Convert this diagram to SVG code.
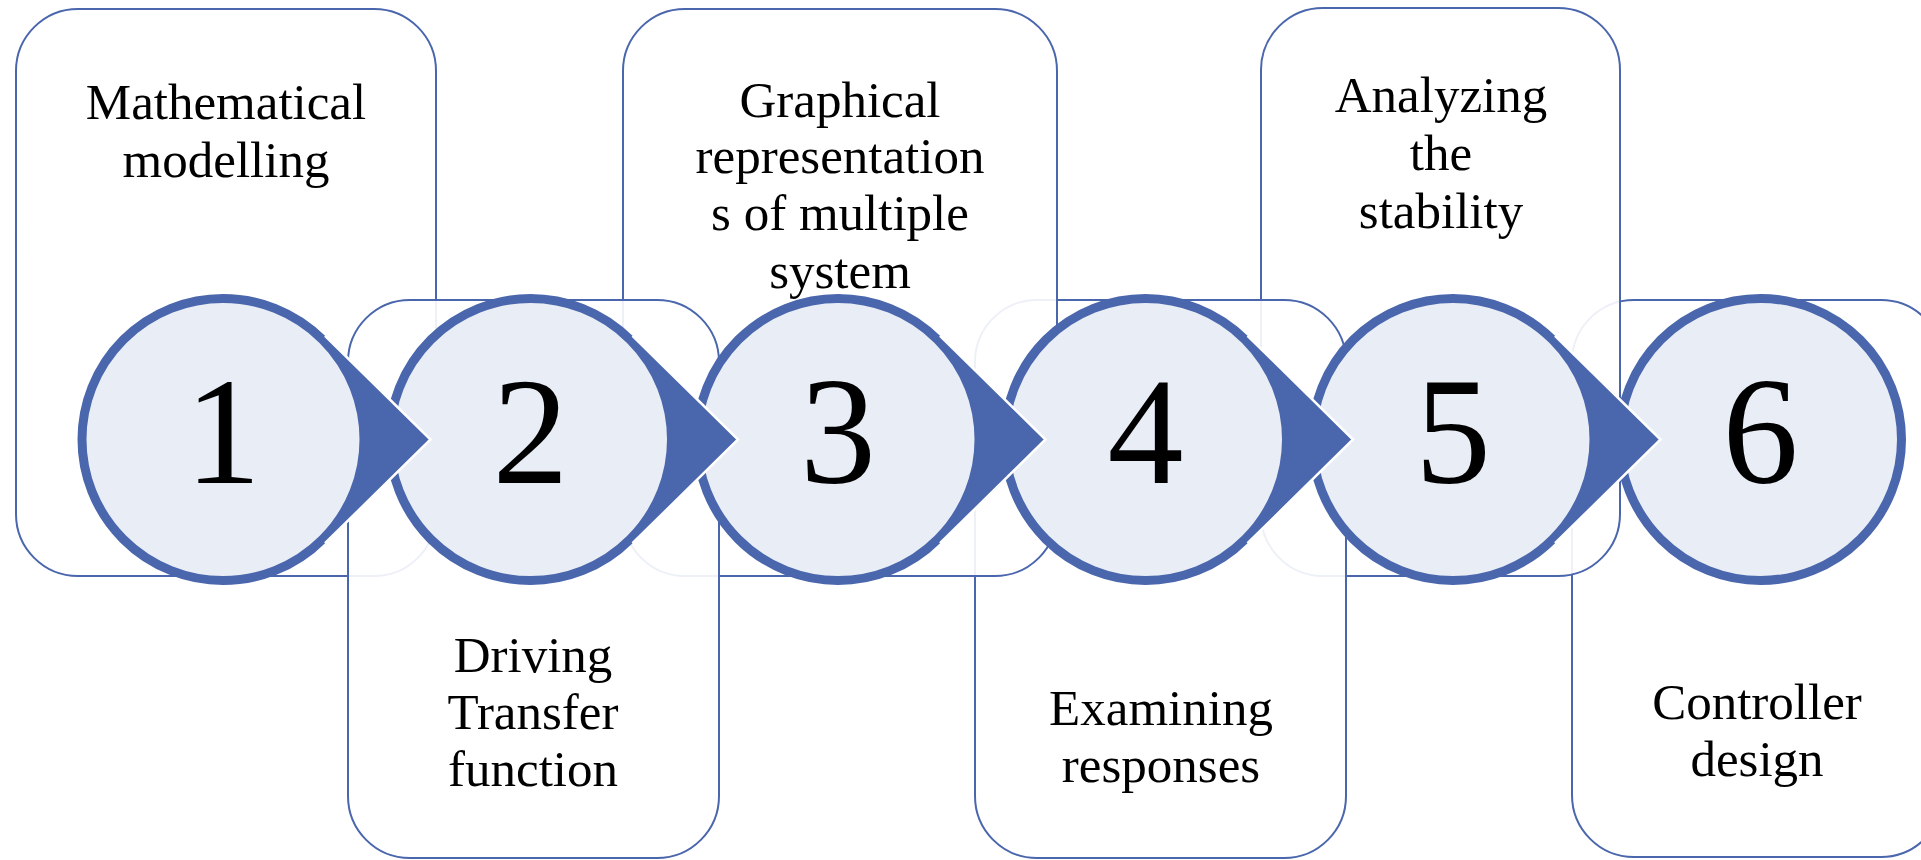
<svg xmlns="http://www.w3.org/2000/svg" width="1921" height="860" viewBox="0 0 1921 860">
  <style>
    .box { fill: #ffffff; fill-opacity: 0.9; stroke: #4A66AC; stroke-width: 2; }
    .lbl { font-family: "Liberation Serif", "Times New Roman", serif; font-size: 51px; fill: #000000; text-anchor: middle; }
    .circ { fill: #E9EDF6; stroke: #4A66AC; stroke-width: 9; }
    .num { font-family: "Liberation Serif", "Times New Roman", serif; font-size: 152px; fill: #000000; text-anchor: middle; }
    .arrow { fill: #4A66AC; stroke: none; }
    .edge { fill: none; stroke: #ffffff; stroke-width: 2.5; stroke-linejoin: miter; }
  </style>
  <rect x="0" y="0" width="1921" height="860" fill="#ffffff"/>

  <g id="boxes">
    <g id="step1-box">
      <rect class="box" x="16" y="9" width="420" height="567" rx="62" ry="62"/>
      <text class="lbl" x="226" y="119">Mathematical</text>
      <text class="lbl" x="226" y="177">modelling</text>
    </g>
    <g id="step6-box">
      <rect class="box" x="1572" y="300" width="371" height="557" rx="62" ry="62"/>
      <text class="lbl" x="1757" y="719">Controller</text>
      <text class="lbl" x="1757" y="776">design</text>
    </g>
    <g id="step5-box">
      <rect class="box" x="1261" y="8" width="359" height="568" rx="62" ry="62"/>
      <text class="lbl" x="1441" y="112">Analyzing</text>
      <text class="lbl" x="1441" y="170">the</text>
      <text class="lbl" x="1441" y="228">stability</text>
    </g>
    <g id="step4-box">
      <rect class="box" x="975" y="300" width="371" height="558" rx="62" ry="62"/>
      <text class="lbl" x="1161" y="725">Examining</text>
      <text class="lbl" x="1161" y="782">responses</text>
    </g>
    <g id="step3-box">
      <rect class="box" x="623" y="9" width="434" height="567" rx="62" ry="62"/>
      <text class="lbl" x="840" y="117">Graphical</text>
      <text class="lbl" x="840" y="173">representation</text>
      <text class="lbl" x="840" y="230">s of multiple</text>
      <text class="lbl" x="840" y="288">system</text>
    </g>
    <g id="step2-box">
      <rect class="box" x="348" y="300" width="371" height="558" rx="62" ry="62"/>
      <text class="lbl" x="533" y="672">Driving</text>
      <text class="lbl" x="533" y="729">Transfer</text>
      <text class="lbl" x="533" y="786">function</text>
    </g>
  </g>

  <g id="circles">
    <g id="step1">
      <circle class="circ" cx="223" cy="439.5" r="141"/>
      <text class="num" x="223" y="483">1</text>
    </g>
    <g id="step2">
      <circle class="circ" cx="530.5" cy="439.5" r="141"/>
      <text class="num" x="530.5" y="483">2</text>
    </g>
    <g id="step3">
      <circle class="circ" cx="838" cy="439.5" r="141"/>
      <text class="num" x="838" y="483">3</text>
    </g>
    <g id="step4">
      <circle class="circ" cx="1145.5" cy="439.5" r="141"/>
      <text class="num" x="1145.5" y="483">4</text>
    </g>
    <g id="step5">
      <circle class="circ" cx="1453" cy="439.5" r="141"/>
      <text class="num" x="1453" y="483">5</text>
    </g>
    <g id="step6">
      <circle class="circ" cx="1760.5" cy="439.5" r="141"/>
      <text class="num" x="1760.5" y="483">6</text>
    </g>
  </g>

  <g id="connectors">
    <g id="c1-2">
      <path class="arrow" d="M430.5,439.5 L325.02,335.76 L321.87,338.98 A141,141 0 0 1 321.87,540.02 L325.02,543.24 Z"/>
      <polyline class="edge" points="325.02,335.76 430.5,439.5 325.02,543.24"/>
    </g>
    <g id="c2-3">
      <path class="arrow" d="M738,439.5 L632.52,335.76 L629.37,338.98 A141,141 0 0 1 629.37,540.02 L632.52,543.24 Z"/>
      <polyline class="edge" points="632.52,335.76 738,439.5 632.52,543.24"/>
    </g>
    <g id="c3-4">
      <path class="arrow" d="M1045.5,439.5 L940.02,335.76 L936.87,338.98 A141,141 0 0 1 936.87,540.02 L940.02,543.24 Z"/>
      <polyline class="edge" points="940.02,335.76 1045.5,439.5 940.02,543.24"/>
    </g>
    <g id="c4-5">
      <path class="arrow" d="M1353,439.5 L1247.52,335.76 L1244.37,338.98 A141,141 0 0 1 1244.37,540.02 L1247.52,543.24 Z"/>
      <polyline class="edge" points="1247.52,335.76 1353,439.5 1247.52,543.24"/>
    </g>
    <g id="c5-6">
      <path class="arrow" d="M1660.5,439.5 L1555.02,335.76 L1551.87,338.98 A141,141 0 0 1 1551.87,540.02 L1555.02,543.24 Z"/>
      <polyline class="edge" points="1555.02,335.76 1660.5,439.5 1555.02,543.24"/>
    </g>
  </g>
</svg>
